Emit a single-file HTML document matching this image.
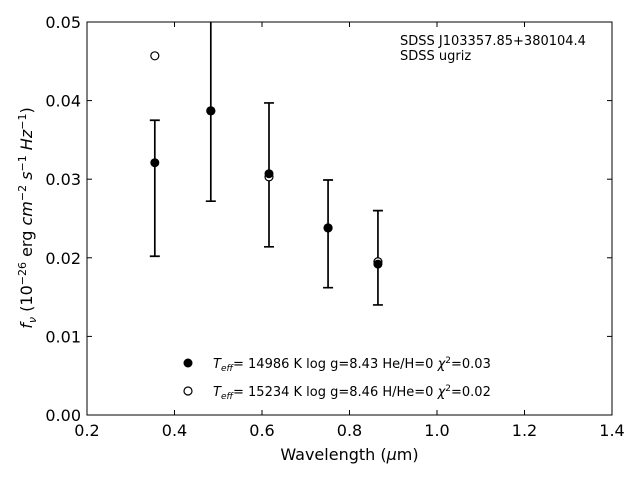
<!DOCTYPE html>
<html><head><meta charset="utf-8"><style>
body{margin:0;background:#fff;}
svg{display:block;font-family:"DejaVu Sans","Liberation Sans",sans-serif;}
</style></head><body>
<svg id="chart" width="640" height="480" viewBox="0 0 640 480" xmlns="http://www.w3.org/2000/svg">
<rect x="0" y="0" width="640" height="480" fill="#fff"/>
<g id="plot"></g>
<rect x="87" y="22" width="525" height="393" fill="none" stroke="#000" stroke-width="1"/>
<g id="xticks"></g>
<g id="yticks"></g>
<text x="349.5" y="460" font-size="16" text-anchor="middle">Wavelength (<tspan font-style="italic">μ</tspan>m)</text>
<text transform="translate(32,218) rotate(-90)" font-size="16" text-anchor="middle"><tspan font-style="italic">f</tspan><tspan font-style="italic" font-size="11" dy="4">ν</tspan><tspan dy="-4"> (10</tspan><tspan font-size="11" dy="-6">−26</tspan><tspan dy="6"> erg </tspan><tspan font-style="italic">cm</tspan><tspan font-size="11" dy="-6">−2</tspan><tspan dy="6" font-style="italic"> s</tspan><tspan font-size="11" dy="-6">−1</tspan><tspan dy="6" font-style="italic"> Hz</tspan><tspan font-size="11" dy="-6">−1</tspan><tspan dy="6">)</tspan></text>
<text x="400" y="45" font-size="13">SDSS J103357.85+380104.4</text>
<text x="400" y="60" font-size="13">SDSS ugriz</text>
<g>
<circle cx="188" cy="363" r="4.5" fill="#000"/>
<text x="213" y="368" font-size="13"><tspan font-style="italic">T</tspan><tspan font-style="italic" font-size="9" dy="3">eff</tspan><tspan dy="-3">= 14986 K  log g=8.43  He/H=0  </tspan><tspan font-style="italic">χ</tspan><tspan font-size="9" dy="-5">2</tspan><tspan dy="5">=0.03</tspan></text>
<circle cx="188" cy="391" r="4" fill="#fff" stroke="#000" stroke-width="1.2"/>
<text x="213" y="396" font-size="13"><tspan font-style="italic">T</tspan><tspan font-style="italic" font-size="9" dy="3">eff</tspan><tspan dy="-3">= 15234 K  log g=8.46  H/He=0  </tspan><tspan font-style="italic">χ</tspan><tspan font-size="9" dy="-5">2</tspan><tspan dy="5">=0.02</tspan></text>
</g>
</svg>
<script>
const wavelengths = [0.355, 0.483, 0.616, 0.751, 0.865];
const observedFlux = [0.0321, 0.0387, 0.0307, 0.0238, 0.0192];
const errUpper = [0.0375, 0.0503, 0.0397, 0.0299, 0.0260];
const errLower = [0.0202, 0.0272, 0.0214, 0.0162, 0.0140];
const modelFlux = [0.0457, 0.0387, 0.0303, 0.0238, 0.0195];
const xTickLabels = ["0.2","0.4","0.6","0.8","1.0","1.2","1.4"];
const yTickLabels = ["0.00","0.01","0.02","0.03","0.04","0.05"];
const X0=87,X1=612,Y0=415,Y1=22;
const xs=v=>X0+(v-0.2)/1.2*(X1-X0);
const ys=v=>Y0-(v/0.05)*(Y0-Y1);
const NS="http://www.w3.org/2000/svg";
function mk(tag,attrs,parent){const e=document.createElementNS(NS,tag);for(const k in attrs)e.setAttribute(k,attrs[k]);parent.appendChild(e);return e;}
const plot=document.getElementById('plot');
const xt=document.getElementById('xticks'), yt=document.getElementById('yticks');
xTickLabels.forEach(l=>{const v=parseFloat(l),x=xs(v);
 const a=mk('line',{x1:x,x2:x,y1:Y0,y2:Y0-5,stroke:'#000'},xt);
 
 
 const b=mk('line',{x1:x,x2:x,y1:Y1,y2:Y1+5,stroke:'#000'},xt);
 
 
 const t=mk('text',{x:x,y:Y0+21,'font-size':16,'text-anchor':'middle'},xt);t.textContent=l;
 
 
});
yTickLabels.forEach(l=>{const v=parseFloat(l),y=ys(v);
 const a=mk('line',{x1:X0,x2:X0+5,y1:y,y2:y,stroke:'#000'},yt);
 
 
 const b=mk('line',{x1:X1,x2:X1-5,y1:y,y2:y,stroke:'#000'},yt);
 
 
 const t=mk('text',{x:X0-6,y:y+6,'font-size':16,'text-anchor':'end'},yt);t.textContent=l;
 
 
});
const clipDefs=mk('defs',{},plot);
const cp=mk('clipPath',{id:'pc'},clipDefs);
mk('rect',{x:X0,y:Y1,width:X1-X0,height:Y0-Y1},cp);
const g=mk('g',{'clip-path':'url(#pc)'},plot);
wavelengths.forEach((w,i)=>{const x=xs(w);
 const eb=mk('path',{d:`M${x},${ys(errUpper[i])}V${ys(errLower[i])}M${x-5},${ys(errUpper[i])}H${x+5}M${x-5},${ys(errLower[i])}H${x+5}`,stroke:'#000','stroke-width':1.7,fill:'none'},g);
 
 
 const m=mk('circle',{cx:x,cy:ys(modelFlux[i]),r:4,fill:'#fff',stroke:'#000','stroke-width':1.2},g);
 
 
 const o=mk('circle',{cx:x,cy:ys(observedFlux[i]),r:4.5,fill:'#000'},g);
 
 
});
</script>
</body></html>
